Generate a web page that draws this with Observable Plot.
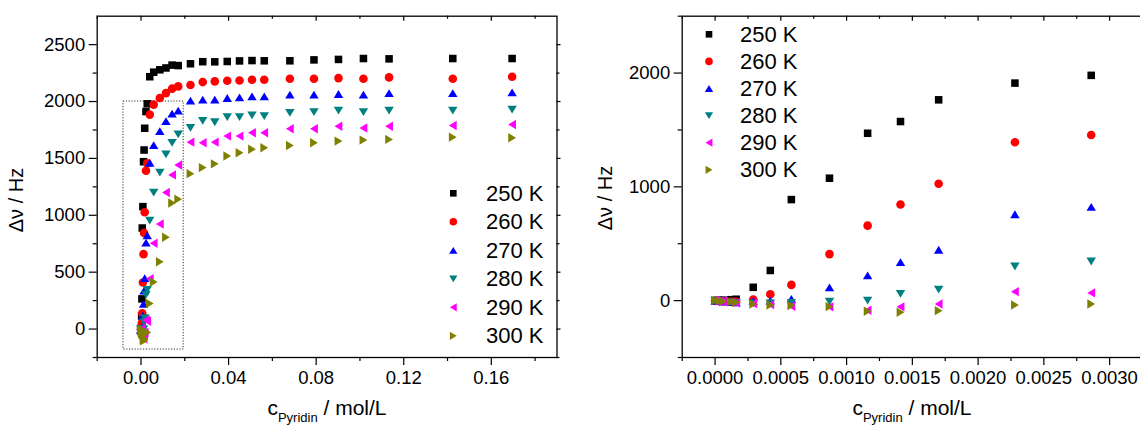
<!DOCTYPE html>
<html><head><meta charset="utf-8">
<script src="https://cdn.jsdelivr.net/npm/d3@7"></script>
<script src="https://cdn.jsdelivr.net/npm/@observablehq/plot@0.6"></script>
<style>
html,body{margin:0;padding:0;background:#fff;}
#chart{position:relative;width:1140px;height:427px;overflow:hidden;font-family:"Liberation Sans",Arial,sans-serif;}
#chart svg{position:absolute;top:0;}
</style></head><body><div id="chart"></div>
<script>
// ---- data ----
const concentration = [0, 0.00003, 0.00006, 0.00012, 0.00016, 0.00029, 0.00042, 0.00058, 0.00087, 0.00116, 0.00141, 0.0017, 0.00228, 0.00286,
  0.004, 0.0058, 0.0086, 0.0114, 0.0142, 0.017, 0.0226, 0.0282, 0.0337, 0.0394, 0.045, 0.0507, 0.0563, 0.068, 0.079, 0.0902, 0.1016, 0.1133, 0.1424, 0.1695];
const series = ["250 K", "260 K", "270 K", "280 K", "290 K", "300 K"];
const seriesColors = ["#000000", "#ff0000", "#0000ff", "#008080", "#ff00ff", "#808000"];
const seriesShapes = ["square", "circle", "up", "down", "left", "right"];
const dv250 = [0, 2, 4, 8, 12, 117, 265, 888, 1076, 1471, 1574, 1765, 1912, 1980,
  2218, 2258, 2279, 2295, 2320, 2316, 2332, 2350, 2349, 2352, 2357, 2360, 2358, 2358, 2366, 2370, 2378, 2375, 2378, 2378];
const dv260 = [0, -3, -5, -8, -10, 9, 56, 138, 409, 659, 845, 1027, 1392, 1456,
  1885, 1973, 2031, 2074, 2113, 2133, 2145, 2171, 2177, 2183, 2185, 2191, 2191, 2200, 2200, 2206, 2200, 2212, 2200, 2218];
const dv270 = [0, -5, -8, -12, -15, -3, 0, 15, 117, 221, 338, 447, 759, 824,
  1462, 1617, 1740, 1827, 1894, 1920, 2008, 2017, 2017, 2031, 2037, 2045, 2045, 2060, 2060, 2066, 2060, 2074, 2074, 2080];
const dv280 = [0, -5, -10, -15, -20, -25, -25, -20, -8, 0, 60, 97, 300, 344,
  953, 1200, 1375, 1536, 1637, 1711, 1768, 1830, 1818, 1862, 1862, 1879, 1871, 1900, 1906, 1920, 1906, 1920, 1920, 1929];
const dv290 = [0, -5, -8, -15, -20, -25, -35, -50, -55, -85, -55, -30, 79, 68,
  443, 754, 924, 1200, 1355, 1442, 1643, 1637, 1643, 1696, 1696, 1725, 1725, 1760, 1760, 1783, 1768, 1783, 1789, 1798];
const dv300 = [0, -3, -5, -10, -15, -30, -38, -44, -53, -94, -103, -88, -38, -29,
  225, 413, 591, 807, 1108, 1142, 1366, 1419, 1452, 1521, 1550, 1580, 1594, 1614, 1637, 1652, 1661, 1667, 1687, 1681];
const seriesValues = [dv250, dv260, dv270, dv280, dv290, dv300];

const leftXDomain = [-0.02, 0.19];
const leftXTicks = [0, 0.04, 0.08, 0.12, 0.16];
const leftXMinor = [-0.02, 0.02, 0.06, 0.10, 0.14, 0.18];
const leftYDomain = [-250, 2750];
const leftYTicks = [0, 500, 1000, 1500, 2000, 2500];
const leftYMinor = [-250, 250, 750, 1250, 1750, 2250];
const zoomBox = [{x1: -0.008, x2: 0.0195, y1: -180, y2: 2000}];

const rightXDomain = [-0.00025, 0.00325];
const rightXTicks = [0, 0.0005, 0.0010, 0.0015, 0.0020, 0.0025, 0.0030];
const rightXMinor = [-0.00025, 0.00025, 0.00075, 0.00125, 0.00175, 0.00225, 0.00275, 0.00325];
const rightYDomain = [-500, 2500];
const rightYTicks = [0, 1000, 2000];
const rightYMinor = [-500, 500, 1500, 2500];

// ---- symbols ----
function makeSymbol(kind, k = 1) {
  return {draw(ctx, size) {
    const r = Math.sqrt(size / Math.PI) * k;
    const w = 1.15 * r, h = 0.95 * r;
    if (kind === "square") { const s = 0.92 * r; ctx.moveTo(-s, -s); ctx.lineTo(s, -s); ctx.lineTo(s, s); ctx.lineTo(-s, s); ctx.closePath(); }
    else if (kind === "circle") { const c = 1.05 * r; ctx.moveTo(c, 0); ctx.arc(0, 0, c, 0, 2 * Math.PI); ctx.closePath(); }
    else if (kind === "up") { ctx.moveTo(0, -h); ctx.lineTo(w, h); ctx.lineTo(-w, h); ctx.closePath(); }
    else if (kind === "down") { ctx.moveTo(0, h); ctx.lineTo(w, -h); ctx.lineTo(-w, -h); ctx.closePath(); }
    else if (kind === "left") { ctx.moveTo(-h, 0); ctx.lineTo(h, -w); ctx.lineTo(h, w); ctx.closePath(); }
    else if (kind === "right") { ctx.moveTo(h, 0); ctx.lineTo(-h, -w); ctx.lineTo(-h, w); ctx.closePath(); }
  }};
}

const rows = series.map((s, j) => concentration.map((c, i) => ({c, dv: seriesValues[j][i], s})));
const FONT = '"Liberation Sans", Arial, sans-serif';

function panel(opts) {
  const {width, mL, mR, xDomain, xTicks, xMinor, yDomain, yTicks, yMinor, xFmt, extra = [], filterX} = opts;
  const mT = 15.7, mB = 70, height = 427;
  const pw = width - mL - mR, ph = height - mT - mB;
  const dotMarks = rows.map((data, j) => Plot.dot(filterX ? data.filter(d => d.c <= filterX) : data, {
    x: "c", y: "dv", r: 4.1, fill: seriesColors[j], stroke: "none", symbol: makeSymbol(seriesShapes[j])
  }));
  return Plot.plot({
    width, height, marginLeft: mL, marginRight: mR, marginTop: mT, marginBottom: mB,
    x: {domain: xDomain}, y: {domain: yDomain},
    style: {fontFamily: FONT, fontSize: "18.5px", background: "transparent", color: "#000", overflow: "visible"},
    marks: [
      ...extra,
      ...dotMarks,
      Plot.frame({stroke: "#000", strokeWidth: 1.3}),
      Plot.axisX({ticks: xTicks, tickSize: 8, tickPadding: 5, tickFormat: xFmt, label: null, strokeWidth: 1.2}),
      Plot.axisX({ticks: xMinor, tickSize: 4, tickFormat: () => "", label: null, strokeWidth: 1.2}),
      Plot.axisY({ticks: yTicks, tickSize: 8, tickPadding: 4, tickFormat: d => String(d), label: null, strokeWidth: 1.2}),
      Plot.axisY({ticks: yMinor, tickSize: 4, tickFormat: () => "", label: null, strokeWidth: 1.2}),
      // mirrored ticks: top (inward) and right (outward)
      Plot.ruleX(xTicks, {x: d => d, insetBottom: ph - 5, stroke: "#000", strokeWidth: 1.2}),
      Plot.ruleX(xMinor, {x: d => d, insetBottom: ph - 3, stroke: "#000", strokeWidth: 1.2}),
      Plot.ruleY(yTicks, {y: d => d, insetLeft: pw, insetRight: -4, stroke: "#000", strokeWidth: 1.2}),
      Plot.ruleY(yMinor, {y: d => d, insetLeft: pw, insetRight: -3, stroke: "#000", strokeWidth: 1.2})
    ]
  });
}

function decorate(svgNode, o) {
  const svg = d3.select(svgNode);
  // y title
  svg.append("text").attr("transform", `translate(${o.yTitleX},${o.yTitleY}) rotate(-90)`)
    .attr("text-anchor", "middle").attr("dominant-baseline", "middle")
    .attr("font-family", FONT).attr("font-size", 20).attr("fill", "#000").text("Δν / Hz");
  // x title with subscript
  const t = svg.append("text").attr("x", o.xTitleX).attr("y", 415).attr("text-anchor", "middle")
    .attr("font-family", FONT).attr("font-size", 21).attr("fill", "#000");
  t.append("tspan").text("c");
  t.append("tspan").attr("font-size", 13).attr("dy", 7).text("Pyridin");
  t.append("tspan").attr("dy", -7).text(" / mol/L");
  // legend
  const g = svg.append("g").attr("text-anchor", "start");
  series.forEach((s, j) => {
    const y = o.legY + o.legDy * j;
    const p = d3.path();
    makeSymbol(seriesShapes[j], 0.9).draw(p, 16 * Math.PI);
    g.append("path").attr("d", p.toString()).attr("fill", seriesColors[j])
      .attr("transform", `translate(${o.legSymX},${y})`);
    g.append("text").attr("x", o.legTextX).attr("y", y).attr("dominant-baseline", "central")
      .attr("text-anchor", "start")
      .attr("font-family", FONT).attr("font-size", 22).attr("fill", "#000").text(s);
  });
}

const chart = document.getElementById("chart");

const left = panel({
  width: 580, mL: 96.7, mR: 23.5, xDomain: leftXDomain, xTicks: leftXTicks, xMinor: leftXMinor,
  yDomain: leftYDomain, yTicks: leftYTicks, yMinor: leftYMinor, xFmt: d3.format(".2f"),
  extra: [Plot.rect(zoomBox, {x1: "x1", x2: "x2", y1: "y1", y2: "y2", fill: "none", stroke: "#333", strokeWidth: 1, strokeDasharray: "1.2,1.6"})]
});
left.style.left = "0px";
chart.appendChild(left);
decorate(left, {yTitleX: 18, yTitleY: 200, xTitleX: 327, legSymX: 453.3, legTextX: 486, legY: 193.3, legDy: 28.5});

const right = panel({
  width: 580, mL: 101.7, mR: 18, xDomain: rightXDomain, xTicks: rightXTicks, xMinor: rightXMinor,
  yDomain: rightYDomain, yTicks: rightYTicks, yMinor: rightYMinor, xFmt: d3.format(".4f"), filterX: 0.00325
});
right.style.left = "580px";
chart.appendChild(right);
decorate(right, {yTitleX: 27, yTitleY: 198, xTitleX: 332, legSymX: 129, legTextX: 160, legY: 34.3, legDy: 27.1});
</script></body></html>
